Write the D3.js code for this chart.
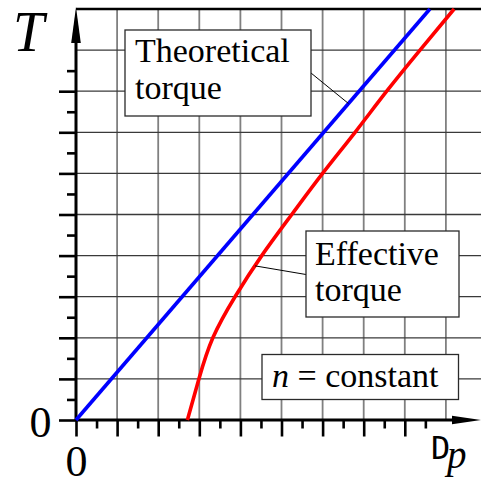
<!DOCTYPE html>
<html>
<head>
<meta charset="utf-8">
<script src="https://cdn.jsdelivr.net/npm/d3@7"></script>
<style>
text.serif { font-family: "Liberation Serif", "Times New Roman", serif; }
text.mono { font-family: "DejaVu Sans Mono", monospace; }
</style>
</head>
<body style="margin:0">
<svg id="chart" width="481" height="479"></svg>
<script>
// ---- data (grid units) ----
const dpTheoretical = [0, 8.61];
const tTheoretical  = [0, 10];
const dpEffective = [2.71, 2.99, 3.33, 3.87, 4.52, 5.25, 6.0, 6.79, 7.56, 8.37, 9.20];
const tEffective  = [0, 1, 2, 3, 4, 5, 6, 7, 8, 9, 10];
const xMajorTicks = [0, 1, 2, 3, 4, 5, 6, 7, 8];
const xMinorTicks = [0.5, 1.5, 2.5, 3.5, 4.5, 5.5, 6.5, 7.5, 8.5];
const yMajorTicks = [0, 1, 2, 3, 4, 5, 6, 7, 8];
const yMinorTicks = [0.5, 1.5, 2.5, 3.5, 4.5, 5.5, 6.5, 7.5, 8.5];
const xGrid = [1, 2, 3, 4, 5, 6, 7, 8, 9];
const yGrid = [1, 2, 3, 4, 5, 6, 7, 8, 9];
const xTickLabels = ["0"];
const yTickLabels = ["0"];
const xTitle = ["D", "p"];
const yTitle = "T";
const labelTheoretical = ["Theoretical", "torque"];
const labelEffective = ["Effective", "torque"];
const labelN = ["n", " = constant"];

const svg = d3.select("#chart");
const x = d3.scaleLinear().domain([0, 10]).range([76, 487]);
const y = d3.scaleLinear().domain([0, 10]).range([420, 9]);

// grid
svg.append("g").selectAll("line").data(xGrid).join("line")
  .attr("x1", d => x(d)).attr("x2", d => x(d))
  .attr("y1", y(10)).attr("y2", y(0))
  .attr("stroke", "#808080").attr("stroke-width", 1.8);
svg.append("g").selectAll("line").data(yGrid).join("line")
  .attr("x1", x(0)).attr("x2", 481)
  .attr("y1", d => y(d)).attr("y2", d => y(d))
  .attr("stroke", "#3a3a3a").attr("stroke-width", 1.3);

// top line
svg.append("line").attr("x1", x(0)).attr("x2", 481)
  .attr("y1", y(10)).attr("y2", y(10))
  .attr("stroke", "#000").attr("stroke-width", 2.5);

// ticks via axes
function styleAxis(g){
  g.select(".domain").remove();
  g.selectAll("line").attr("stroke", "#000").attr("stroke-width", 2.6);
}
svg.append("g").attr("transform", `translate(0,${y(0)})`)
  .call(d3.axisBottom(x).tickValues(xMajorTicks).tickSize(16.5).tickFormat(""))
  .call(styleAxis);
svg.append("g").attr("transform", `translate(0,${y(0)})`)
  .call(d3.axisBottom(x).tickValues(xMinorTicks).tickSize(8.5).tickFormat(""))
  .call(styleAxis);
svg.append("g").attr("transform", `translate(${x(0)},0)`)
  .call(d3.axisLeft(y).tickValues(yMajorTicks).tickSize(17).tickFormat(""))
  .call(styleAxis);
svg.append("g").attr("transform", `translate(${x(0)},0)`)
  .call(d3.axisLeft(y).tickValues(yMinorTicks).tickSize(9).tickFormat(""))
  .call(styleAxis);

// axis lines with arrows
const ox = x(0), oy = y(0);
svg.append("line").attr("x1", ox).attr("x2", ox).attr("y1", oy).attr("y2", 40)
  .attr("stroke", "#000").attr("stroke-width", 3);
svg.append("path").attr("d", `M${ox},7 L${ox+4.8},43 L${ox-4.8},43 Z`).attr("fill", "#000");
svg.append("line").attr("x1", ox).attr("x2", 455).attr("y1", oy).attr("y2", oy)
  .attr("stroke", "#000").attr("stroke-width", 3);
svg.append("path").attr("d", `M481,${oy} L452,${oy-4.3} L452,${oy+4.3} Z`).attr("fill", "#000");

// curves
const lineStraight = d3.line().x(d => x(d[0])).y(d => y(d[1]));
const lineSmooth = d3.line().x(d => x(d[0])).y(d => y(d[1])).curve(d3.curveNatural);
svg.append("path").datum(dpTheoretical.map((d, i) => [d, tTheoretical[i]]))
  .attr("d", lineStraight).attr("fill", "none").attr("stroke", "#0000ff").attr("stroke-width", 3.6);
svg.append("path").datum(dpEffective.map((d, i) => [d, tEffective[i]]))
  .attr("d", lineSmooth).attr("fill", "none")
  .attr("stroke", "#ff0000").attr("stroke-width", 3.6);

// leader lines
const tTheoLead = 7.7;
const dpTheoLead = tTheoLead * dpTheoretical[1] / tTheoretical[1];
svg.append("line").attr("x1", 311).attr("y1", 73)
  .attr("x2", x(dpTheoLead)).attr("y2", y(tTheoLead))
  .attr("stroke", "#000").attr("stroke-width", 1);
const tEffLead = 3.75;
const dpEffLead = d3.scaleLinear().domain(tEffective).range(dpEffective)(tEffLead);
svg.append("line").attr("x1", 306).attr("y1", 274.5)
  .attr("x2", x(dpEffLead)).attr("y2", y(tEffLead))
  .attr("stroke", "#000").attr("stroke-width", 1);

// label boxes
function box(x0, y0, x1, y1){
  svg.append("rect").attr("x", x0).attr("y", y0).attr("width", x1 - x0).attr("height", y1 - y0)
    .attr("fill", "#fff").attr("stroke", "#2a2a2a").attr("stroke-width", 1.3);
}
function txt(xp, yp, size, s){
  const t = svg.append("text").attr("class", "serif").attr("x", xp).attr("y", yp)
    .attr("font-size", size);
  if (s !== null) t.text(s);
  return t;
}
box(125, 30, 311, 116);
txt(135, 62, 34, labelTheoretical[0]);
txt(135, 98.5, 34, labelTheoretical[1]);

box(306, 231, 459, 317);
txt(315, 264.5, 34, labelEffective[0]);
txt(315, 300.5, 34, labelEffective[1]);

box(262, 354.5, 458.5, 399.5);
const nt = txt(272, 387, 34, null);
nt.append("tspan").attr("font-style", "italic").text(labelN[0]);
nt.append("tspan").text(labelN[1]);

// axis titles & tick labels
txt(13, 50.5, 56, yTitle).attr("font-style", "italic");
txt(40.5, 436.5, 44, yTickLabels[0]).attr("text-anchor", "middle");
txt(x(0) + 0.5, 476, 44, xTickLabels[0]).attr("text-anchor", "middle");
svg.append("text").attr("class", "mono").attr("x", 431).attr("y", 459.3)
  .attr("font-size", 32).text(xTitle[0]);
txt(447, 467.5, 39, xTitle[1]).attr("font-style", "italic");
</script>
</body>
</html>
